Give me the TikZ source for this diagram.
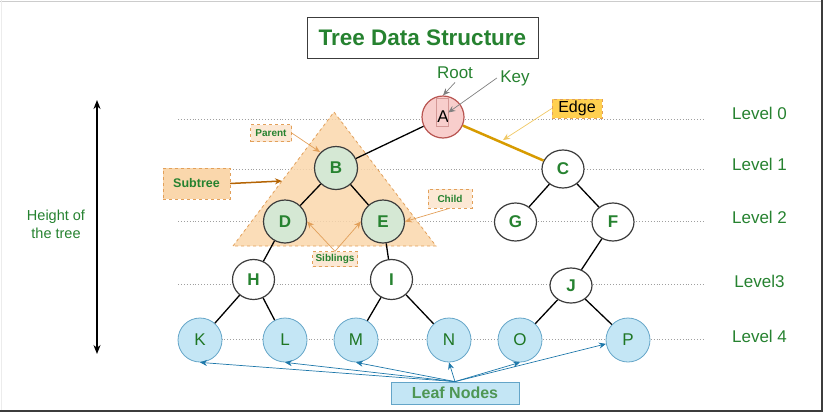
\documentclass[tikz,border=0pt]{standalone}
\usepackage{fontspec}
\setmainfont{Liberation Sans}
\usetikzlibrary{arrows.meta,shapes.geometric}

\definecolor{nicegreen}{RGB}{38,130,48}
\definecolor{leafgreen}{RGB}{30,118,36}
\definecolor{leaftext}{RGB}{78,150,84}
\definecolor{nodegray}{RGB}{60,60,60}
\definecolor{subgreen}{RGB}{213,232,212}
\definecolor{leafblue}{RGB}{196,230,245}
\definecolor{leafline}{RGB}{100,165,200}
\definecolor{leafarrow}{RGB}{30,120,170}
\definecolor{rootred}{RGB}{248,206,204}
\definecolor{rootline}{RGB}{184,84,80}
\definecolor{peach}{RGB}{250,215,172}
\definecolor{peachlight}{RGB}{252,232,212}
\definecolor{peachline}{RGB}{226,160,90}
\definecolor{edgegold}{RGB}{215,155,0}
\definecolor{edgebox}{RGB}{255,208,80}
\definecolor{edgepoint}{RGB}{240,200,100}
\definecolor{subarrow}{RGB}{180,100,4}

\tikzset{
  treenode/.style={ellipse,draw=nodegray,line width=1.2pt,fill=white,minimum width=42pt,minimum height=38pt,inner sep=0pt,text=nicegreen,font=\bfseries\fontsize{17}{20}\selectfont},
  subnode/.style={treenode,circle,fill=subgreen,minimum size=43pt},
  leafnode/.style={circle,draw=leafline,line width=0.8pt,fill=leafblue,minimum size=44pt,inner sep=0pt,text=leafgreen,font=\fontsize{17}{20}\selectfont},
  notebox/.style={draw=peachline,dashed,fill=peachlight,inner sep=0pt,text=nicegreen,font=\bfseries\fontsize{10}{12}\selectfont},
  levellabel/.style={text=nicegreen,font=\fontsize{17}{20}\selectfont},
  levelline/.style={dotted,gray!75,line width=0.9pt},
  pointer/.style={-{Stealth[length=7pt,width=6pt]},line width=0.7pt},
}

\begin{document}
\begin{tikzpicture}[x=1pt,y=-1pt]
  \useasboundingbox (0,0) rectangle (825,413);
  %Frame
  \draw[gray!40,line width=1pt] (0,1) -- (822,1);
  \draw[gray!15,line width=1pt] (1,0) -- (1,411);
  \draw[nodegray,line width=1.5pt] (822,0) -- (822,411) -- (0,411);
  %Title
  \node[draw=nodegray,line width=1pt,minimum width=231pt,minimum height=41pt,text=nicegreen,font=\bfseries\fontsize{22.5}{26}\selectfont] (Title) at (422.5,37.5) {Tree Data Structure};
  %Levels
  \draw[levelline] (178,119) -- (704,119);
  \draw[levelline] (178,169) -- (704,169);
  \draw[levelline] (178,221) -- (704,221);
  \draw[levelline] (178,284) -- (704,284);
  \draw[levelline] (178,339) -- (704,339);
  \node[levellabel] (Level0) at (759.5,113) {Level 0};
  \node[levellabel] (Level1) at (759.5,164) {Level 1};
  \node[levellabel] (Level2) at (759.5,217.5) {Level 2};
  \node[levellabel] (Level3) at (759.5,281.5) {Level3};
  \node[levellabel] (Level4) at (759.5,336.5) {Level 4};
  %Height
  \coordinate (H-top) at (97,100);
  \coordinate (H-bottom) at (97,354);
  \draw[line width=1.6pt,{Stealth[length=9pt,width=7pt]}-{Stealth[length=9pt,width=7pt]}] (H-top) -- (H-bottom);
  \node[align=center,text=nicegreen,font=\fontsize{14.5}{17.7}\selectfont] (Height) at (56,224) {Height of\\the tree};
  %Subtree
  \coordinate (T1) at (233,246);
  \coordinate (T-apex) at (334,112);
  \coordinate (T2) at (436,246);
  \path[fill=peach,draw=peachline,dashed,line width=0.8pt,fill opacity=0.85] (T1) -- (T-apex) -- (T2) -- cycle;
  %Nodes
  \node[circle,draw=rootline,line width=1.2pt,fill=rootred,minimum size=42pt,inner sep=0pt,font=\fontsize{17}{20}\selectfont] (A) at (443,117) {A};
  \node[draw=rootline!60,line width=0.6pt,minimum width=12pt,minimum height=28pt,inner sep=0pt] (Akey) at (442,112.5) {};
  \node[subnode] (B) at (336,168) {B};
  \node[treenode] (C) at (563,169) {C};
  \node[subnode] (D) at (285,221.5) {D};
  \node[subnode] (E) at (383,221.5) {E};
  \node[treenode] (G) at (515.5,222) {G};
  \node[treenode] (F) at (613,222) {F};
  \node[treenode,minimum height=40pt] (H) at (253.5,279.5) {H};
  \node[treenode,minimum height=40pt] (I) at (391.5,279.5) {I};
  \node[treenode,minimum height=35pt] (J) at (571,285.5) {J};
  \node[leafnode] (K) at (200,340) {K};
  \node[leafnode] (L) at (285,340) {L};
  \node[leafnode] (M) at (356,340) {M};
  \node[leafnode] (N) at (449,340) {N};
  \node[leafnode] (O) at (520,340) {O};
  \node[leafnode] (P) at (628,340) {P};
  %Edges
  \draw[edgegold,line width=2.5pt] (A) -- (C);
  \draw[line width=1.3pt] (A) -- (B);
  \draw[line width=1.3pt] (B) -- (D);
  \draw[line width=1.3pt] (B) -- (E);
  \draw[line width=1.3pt] (C) -- (G);
  \draw[line width=1.3pt] (C) -- (F);
  \draw[line width=1.3pt] (D) -- (H);
  \draw[line width=1.3pt] (E) -- (I);
  \draw[line width=1.3pt] (F) -- (J);
  \draw[line width=1.3pt] (H) -- (K);
  \draw[line width=1.3pt] (H) -- (L);
  \draw[line width=1.3pt] (I) -- (M);
  \draw[line width=1.3pt] (I) -- (N);
  \draw[line width=1.3pt] (J) -- (O);
  \draw[line width=1.3pt] (J) -- (P);
  %Labels
  \node[text=nicegreen,font=\fontsize{17}{20}\selectfont] (Root) at (455,73) {Root};
  \node[text=nicegreen,font=\fontsize{17}{20}\selectfont] (Key) at (515,78) {Key};
  \draw[pointer,gray] (Root.south) -- (A.north);
  \draw[pointer,gray] (Key.west) -- (Akey.east);
  \node[draw=peachline,dashed,fill=edgebox,minimum width=50pt,minimum height=19pt,inner sep=0pt,font=\fontsize{16}{19}\selectfont] (Edge) at (577,108.5) {Edge};
  \coordinate (Edge-tip) at (503,140);
  \draw[pointer,edgepoint] (Edge.west) -- (Edge-tip);
  \node[draw=peachline,dashed,fill=peach,minimum width=67pt,minimum height=31pt,inner sep=0pt,text=nicegreen,font=\bfseries\fontsize{12.5}{15}\selectfont] (Subtree) at (196.5,183.5) {Subtree};
  \coordinate (Subtree-tip) at (282,181);
  \draw[pointer,subarrow,line width=1.5pt] (Subtree.east) -- (Subtree-tip);
  \node[notebox,minimum width=41pt,minimum height=17pt] (Parent) at (271,133) {Parent};
  \coordinate (Parent-tip) at (320,152);
  \draw[pointer,peachline] (Parent.east) -- (Parent-tip);
  \node[notebox,minimum width=44pt,minimum height=19pt] (Child) at (450,198.5) {Child};
  \draw[pointer,peachline] (Child.south) -- (E.east);
  \node[notebox,minimum width=45pt,minimum height=15pt] (Siblings) at (335,259) {Siblings};
  \draw[pointer,peachline] (Siblings.north) -- (D.east);
  \draw[pointer,peachline] (Siblings.north) -- (E.west);
  %Leaf Nodes
  \node[draw=leafline,fill=leafblue,line width=0.8pt,minimum width=128pt,minimum height=22pt,inner sep=0pt,text=leaftext,font=\bfseries\fontsize{16}{19}\selectfont] (Leaf) at (455,393) {Leaf Nodes};
  \draw[pointer,leafarrow] (Leaf.north) -- (K.south);
  \draw[pointer,leafarrow] (Leaf.north) -- (L.south);
  \draw[pointer,leafarrow] (Leaf.north) -- (M.south);
  \draw[pointer,leafarrow] (Leaf.north) -- (N.south);
  \draw[pointer,leafarrow] (Leaf.north) -- (O.south);
  \draw[pointer,leafarrow] (Leaf.north) -- (P.190);
\end{tikzpicture}
\end{document}
